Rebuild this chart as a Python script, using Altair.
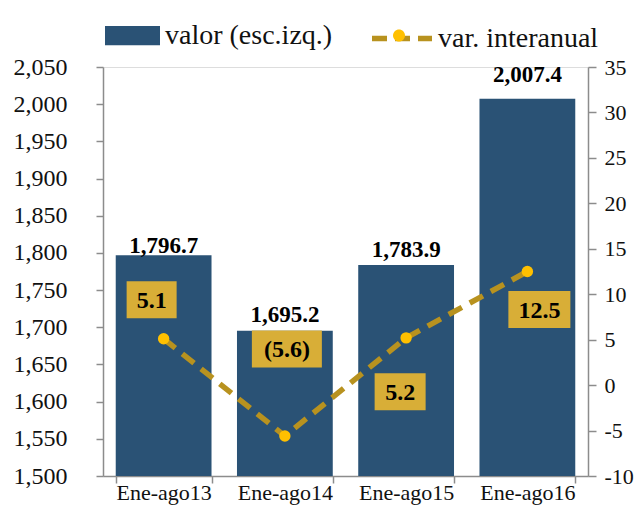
import altair as alt
import pandas as pd

# ---- data ----
categories = ["Ene-ago13", "Ene-ago14", "Ene-ago15", "Ene-ago16"]
valor = [1796.7, 1695.2, 1783.9, 2007.4]
var_interanual = [5.1, -5.6, 5.2, 12.5]
var_labels = ["5.1", "(5.6)", "5.2", "12.5"]

# ---- label styling (pixel offsets / widths) ----
bar_lab_dy = [-2, -9, -8, -17]
box_dx = [-12, 2, -6, 12]
box_dy = [-39, -87, 54, 38]
box_w = [50, 70, 51, 62]
BOX_H = 37

FONT = "Liberation Serif"
BAR_COLOR = "#2A5275"
LINE_COLOR = "#B8921F"
DOT_COLOR = "#FFC000"
BOX_COLOR = "#D8AE37"
AXIS_GRAY = "#8C8C8C"
TXT = "#111111"


def box_path(w, h, dx, dy):
    s = w / 2.0
    x0, x1 = (dx - w / 2) / s, (dx + w / 2) / s
    y0, y1 = (dy - h / 2) / s, (dy + h / 2) / s
    return f"M{x0:.4f},{y0:.4f}L{x1:.4f},{y0:.4f}L{x1:.4f},{y1:.4f}L{x0:.4f},{y1:.4f}Z"


df = pd.DataFrame({
    "cat": categories,
    "valor": valor,
    "var": var_interanual,
    "lab": var_labels,
    "shape": [box_path(w, BOX_H, dx, dy) for w, dx, dy in zip(box_w, box_dx, box_dy)],
    "size": [w * w for w in box_w],
    "s1": ["valor (esc.izq.)"] * 4,
    "s2": ["var. interanual"] * 4,
    "s3": ["dot"] * 4,
})

x_enc = alt.X(
    "cat:N",
    sort=categories,
    title=None,
    scale=alt.Scale(paddingInner=0.21, paddingOuter=0.105),
    axis=alt.Axis(
        labelAngle=0, labelFont=FONT, labelFontSize=22, labelColor=TXT,
        labelBaseline="alphabetic",
        domainColor=AXIS_GRAY, tickColor=AXIS_GRAY, tickSize=7, tickBand="extent",
        labelPadding=16, domainWidth=1.5, tickWidth=1.5,
    ),
)

y_left = alt.Y(
    "valor:Q",
    title=None,
    scale=alt.Scale(domain=[1500, 2050], zero=False, nice=False),
    axis=alt.Axis(
        values=list(range(1500, 2051, 50)), format=",.0f", grid=False,
        labelFont=FONT, labelFontSize=24, labelColor=TXT,
        domainColor=AXIS_GRAY, tickColor=AXIS_GRAY, tickSize=7,
        labelPadding=29, domainWidth=1.5, tickWidth=1.5,
    ),
)

y_right = alt.Y(
    "var:Q",
    title=None,
    scale=alt.Scale(domain=[-10, 35], nice=False, zero=False),
    axis=alt.Axis(
        orient="right", values=list(range(-10, 36, 5)),
        labelExpr="'' + datum.value", grid=False,
        labelFont=FONT, labelFontSize=22, labelColor=TXT,
        domainColor=AXIS_GRAY, tickColor=AXIS_GRAY, tickSize=8,
        labelPadding=8, domainWidth=1.5, tickWidth=1.5,
    ),
)

base = alt.Chart(df)

LEG_Y = -59

bars = base.mark_bar().encode(
    x=x_enc,
    y=y_left,
    y2=alt.datum(1500),
    fill=alt.Fill(
        "s1:N", title=None,
        scale=alt.Scale(domain=["valor (esc.izq.)"], range=[BAR_COLOR]),
        legend=alt.Legend(
            orient="none", legendX=2, legendY=LEG_Y, padding=0,
            symbolType="M-1,-0.35L1,-0.35L1,0.35L-1,0.35Z", symbolSize=55 * 55,
            symbolStrokeWidth=0, labelFont=FONT, labelFontSize=28,
            labelColor=TXT, labelOffset=5, labelLimit=400,
        ),
    ),
)

bar_texts = []
for cat, dy in zip(categories, bar_lab_dy):
    bar_texts.append(
        base.transform_filter(alt.datum.cat == cat)
        .mark_text(font=FONT, fontSize=23, fontWeight="bold", color="#000",
                   baseline="alphabetic", dy=dy)
        .encode(x=x_enc, y=y_left, text=alt.Text("valor:Q", format=",.1f"))
    )

left_layer = alt.layer(bars, *bar_texts)

line = base.mark_line(strokeWidth=5.5, strokeDash=[15, 9]).encode(
    x=x_enc,
    y=y_right,
    stroke=alt.Stroke(
        "s2:N", title=None,
        scale=alt.Scale(domain=["var. interanual"], range=[LINE_COLOR]),
        legend=alt.Legend(
            orient="none", legendX=266, legendY=LEG_Y - 2.5, padding=0,
            symbolType="stroke", symbolSize=60 * 60, symbolStrokeWidth=5.5,
            symbolDash=[15, 8], labelFont=FONT, labelFontSize=28,
            labelColor=TXT, labelOffset=3, labelLimit=400,
        ),
    ),
)

dot_path = "M-0.2,0A0.2,0.2 0 1,0 0.2,0A0.2,0.2 0 1,0 -0.2,0Z"

points = base.mark_point(filled=True, opacity=1, size=130).encode(
    x=x_enc,
    y=y_right,
    color=alt.Color(
        "s3:N", title=None,
        scale=alt.Scale(domain=["dot"], range=[DOT_COLOR]),
        legend=alt.Legend(
            orient="none", legendX=266, legendY=LEG_Y - 2.5, padding=0,
            symbolType=dot_path, symbolSize=60 * 60, symbolStrokeWidth=0,
            labelExpr="''", labelFontSize=1, labelOffset=0,
        ),
    ),
)

boxes = base.mark_point(filled=True, opacity=1, color=BOX_COLOR, strokeWidth=0).encode(
    x=x_enc,
    y=y_right,
    shape=alt.Shape("shape:N", scale=None, legend=None),
    size=alt.Size("size:Q", scale=None, legend=None),
)

box_texts = []
for cat, dx, dy in zip(categories, box_dx, box_dy):
    box_texts.append(
        base.transform_filter(alt.datum.cat == cat)
        .mark_text(font=FONT, fontSize=24, fontWeight="bold", color="#000",
                   baseline="middle", dx=dx, dy=dy + 1)
        .encode(x=x_enc, y=y_right, text="lab:N")
    )

right_layer = alt.layer(line, points, boxes, *box_texts)

chart = (
    alt.layer(left_layer, right_layer)
    .resolve_scale(y="independent", color="independent", fill="independent",
                   stroke="independent")
    .resolve_legend(color="independent", fill="independent", stroke="independent")
    .properties(
        width=485, height=409,
        autosize=alt.AutoSizeParams(type="none"),
        padding={"left": 95, "right": 47, "top": 59, "bottom": 31},
    )
    .configure_view(stroke=None)
    .configure_axis(labelFont=FONT, labelColor=TXT)
    .configure_legend(labelFont=FONT, labelFontSize=28, labelColor=TXT)
    .configure_text(font=FONT)
    .configure(background="white")
)

chart.save("out.html", embed_options={"renderer": "svg", "actions": False})
